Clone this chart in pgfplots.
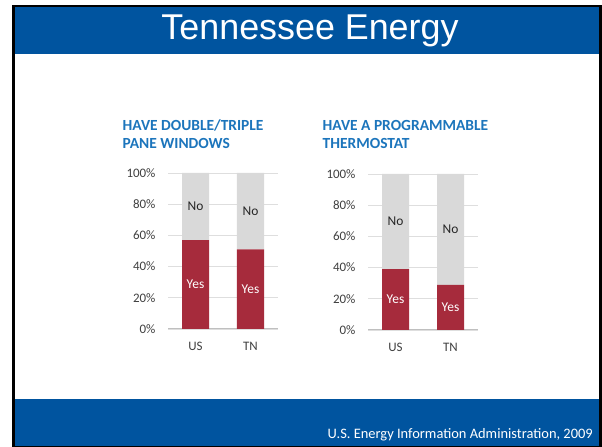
\documentclass[border=0pt]{standalone}
\usepackage{pgfplots}
\pgfplotsset{compat=1.18}
\usepackage{fontspec}
\setmainfont{Carlito}
\newfontfamily\arialfont{Liberation Sans}
\definecolor{slideblue}{RGB}{0,84,159}
\definecolor{titleblue}{RGB}{28,117,188}
\definecolor{barred}{RGB}{166,43,60}
\definecolor{bargray}{RGB}{217,217,217}
\definecolor{gridgray}{RGB}{222,222,222}
\definecolor{axisgray}{RGB}{191,191,191}
\definecolor{ticktext}{RGB}{64,64,64}
\pgfplotsset{
  minichart/.style={
    scale only axis, width=110bp, height=156bp,
    anchor=south west,
    ybar stacked, bar width=27bp,
    xmin=-0.5, xmax=1.5, ymin=0, ymax=100,
    xtick={0,1}, xticklabels={US,TN},
    ytick={0,20,...,100},
    yticklabel={\pgfmathprintnumber{\tick}\%},
    /pgf/number format/assume math mode=true,
    ymajorgrids, grid style={gridgray, line width=0.8bp},
    axis x line*=bottom, axis y line*=left,
    x axis line style={axisgray, line width=1bp, -},
    y axis line style={draw=none},
    major tick length=0pt,
    tick label style={font=\fontsize{13}{15}\selectfont, text=ticktext},
    yticklabel style={xshift=-9bp},
    xticklabel style={yshift=-10bp},
    clip=false,
  }
}
\begin{document}
\begin{tikzpicture}
\path[use as bounding box] (0bp,0bp) rectangle (602bp,447bp);
% slide frame
\fill[black] (12bp,0bp) rectangle (602bp,442bp);
\fill[white] (15bp,1.5bp) rectangle (599bp,440bp);
\fill[slideblue] (15bp,1.5bp) rectangle (599bp,48bp);
\fill[slideblue] (15bp,393bp) rectangle (599bp,440bp);
\node[anchor=base, text=white, font=\arialfont\fontsize{36}{40}\selectfont, inner sep=0] at (310bp,407bp) {Tennessee Energy};
\node[anchor=base east, text=white, font=\fontsize{14.5}{16}\selectfont, inner sep=0] at (593bp,9bp) {U.S. Energy Information Administration, 2009};
% titles
\node[anchor=base west, text=titleblue, font=\bfseries\fontsize{15.5}{17}\selectfont, inner sep=0] at (122.5bp,316bp) {HAVE DOUBLE/TRIPLE};
\node[anchor=base west, text=titleblue, font=\bfseries\fontsize{15.5}{17}\selectfont, inner sep=0] at (122.5bp,298bp) {PANE WINDOWS};
\node[anchor=base west, text=titleblue, font=\bfseries\fontsize{15.5}{17}\selectfont, inner sep=0] at (322.5bp,316bp) {HAVE A PROGRAMMABLE};
\node[anchor=base west, text=titleblue, font=\bfseries\fontsize{15.5}{17}\selectfont, inner sep=0] at (322.5bp,298bp) {THERMOSTAT};
% chart 1
\begin{axis}[minichart, at={(168bp,118bp)}]
\addplot[fill=barred, draw=none] coordinates {(0,57) (1,51)};
\addplot[fill=bargray, draw=none] coordinates {(0,43) (1,49)};
\coordinate (a1y) at (axis cs:0,28.5);
\coordinate (b1y) at (axis cs:1,25.5);
\coordinate (a1n) at (axis cs:0,78.5);
\coordinate (b1n) at (axis cs:1,75.5);
\end{axis}
% chart 2
\begin{axis}[minichart, at={(368bp,117bp)}]
\addplot[fill=barred, draw=none] coordinates {(0,39) (1,29)};
\addplot[fill=bargray, draw=none] coordinates {(0,61) (1,71)};
\coordinate (a2y) at (axis cs:0,19.5);
\coordinate (b2y) at (axis cs:1,14.5);
\coordinate (a2n) at (axis cs:0,69.5);
\coordinate (b2n) at (axis cs:1,64.5);
\end{axis}
\foreach \c in {a1y,b1y,a2y,b2y}
  \node[text=white, font=\fontsize{13.5}{15}\selectfont] at (\c) {Yes};
\foreach \c in {a1n,b1n,a2n,b2n}
  \node[text=black!85, font=\fontsize{13.5}{15}\selectfont] at (\c) {No};
\end{tikzpicture}
\end{document}
